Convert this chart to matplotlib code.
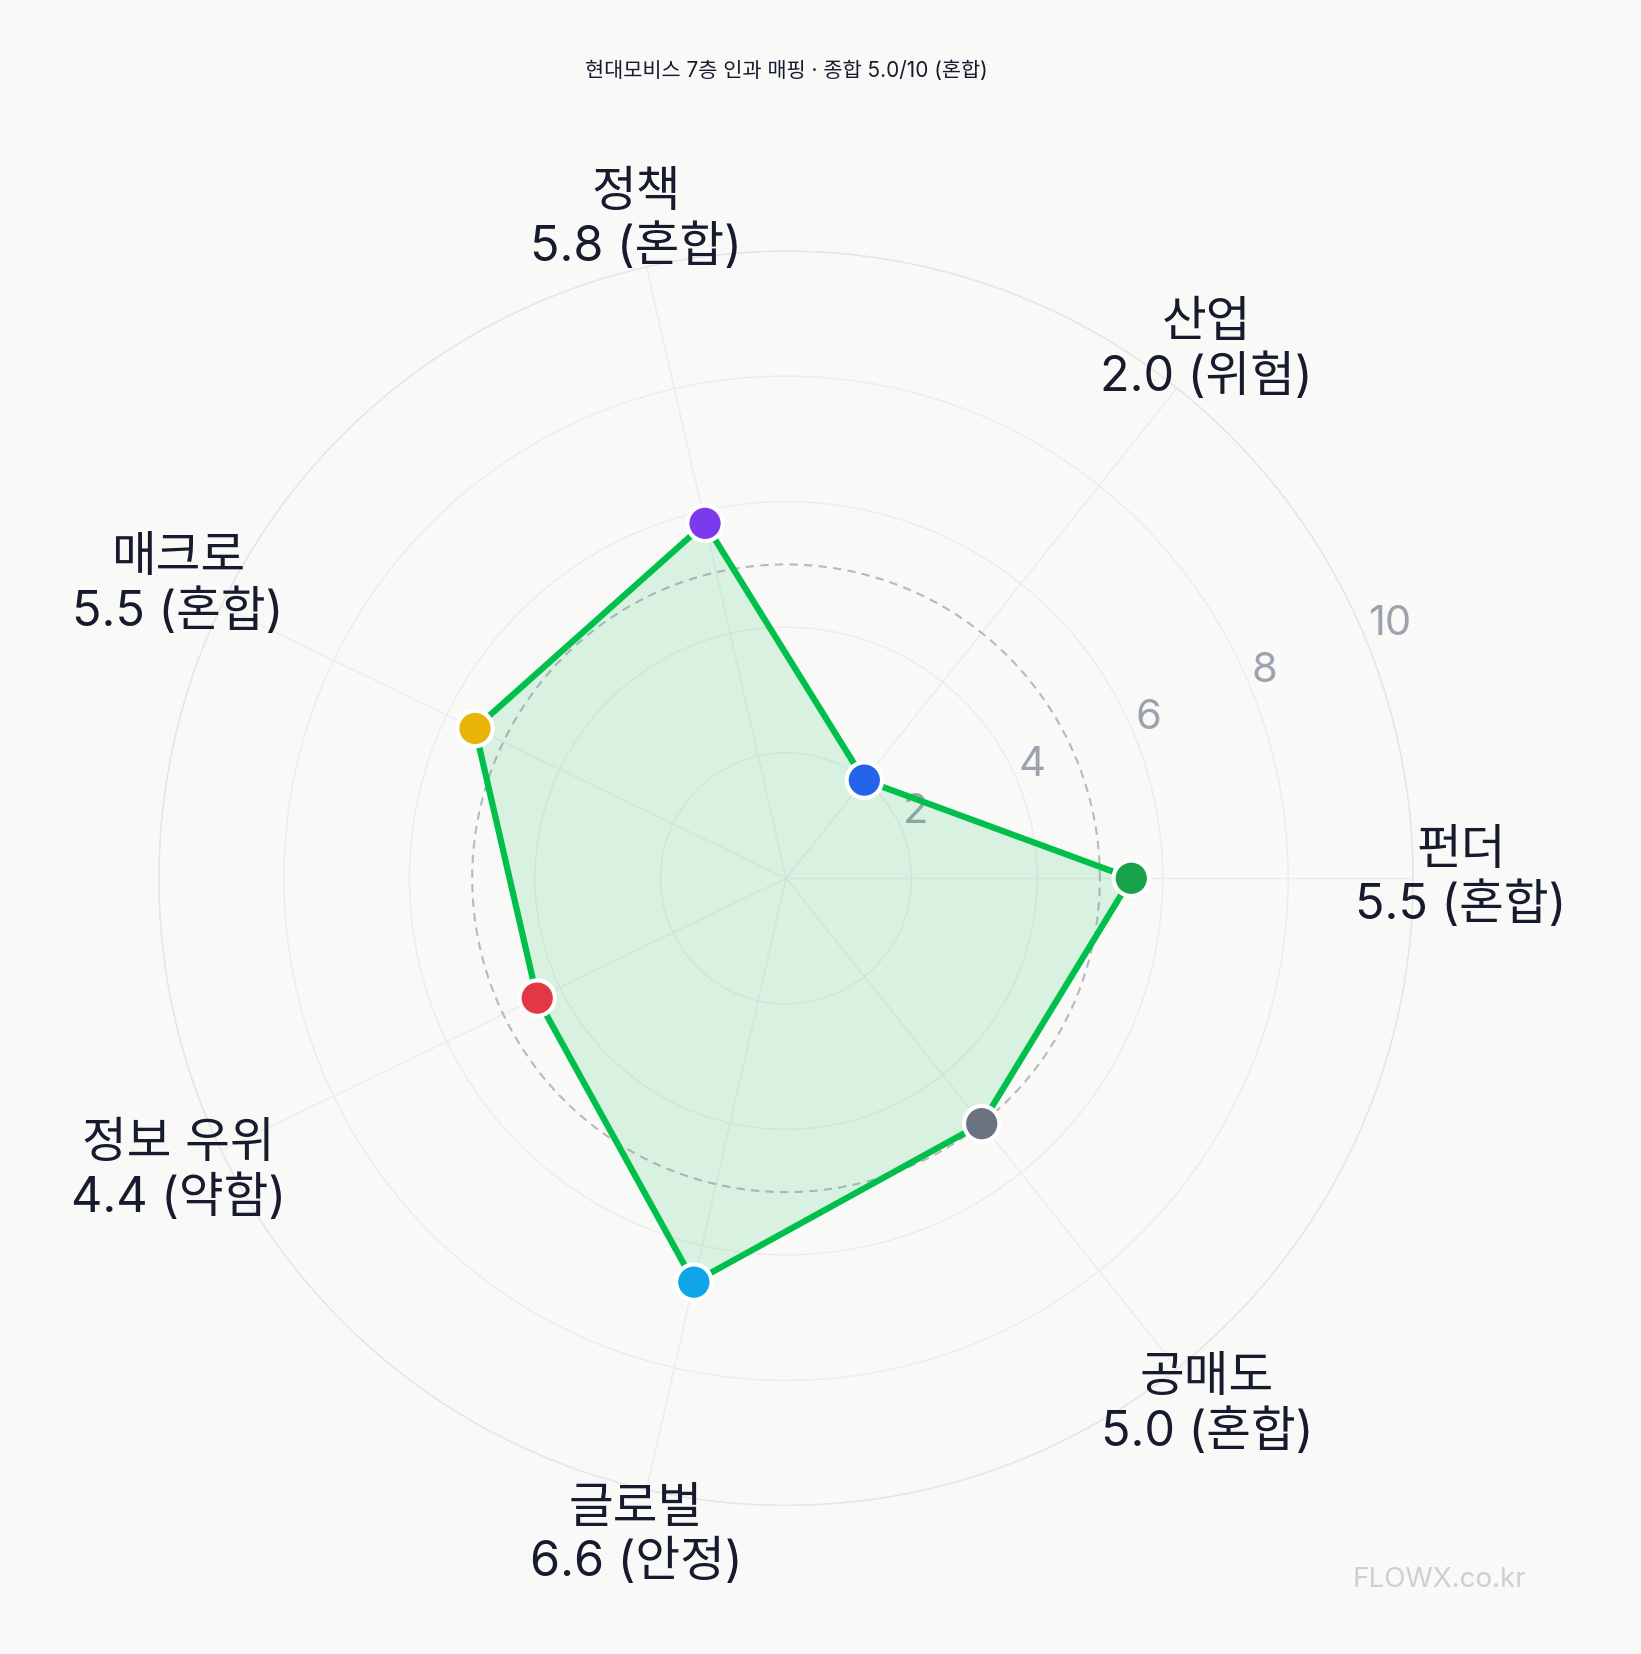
import numpy as np
import matplotlib
matplotlib.use("Agg")
import matplotlib.pyplot as plt

plt.rcParams['font.family'] = ['Inter', 'Noto Sans CJK KR', 'DejaVu Sans']

categories = ["펀더", "산업", "정책", "매크로", "정보 우위", "글로벌", "공매도"]
values = [5.5, 2.0, 5.8, 5.5, 4.4, 6.6, 5.0]
status = ["혼합", "위험", "혼합", "혼합", "약함", "안정", "혼합"]
point_colors = ["#16a34a", "#2563eb", "#7c3aed", "#eab308", "#e23744", "#0ea5e9", "#6b7280"]
avg = 5.0
rticks = [2, 4, 6, 8, 10]
title = "현대모비스 7층 인과 매핑 · 종합 5.0/10 (혼합)"

bg = "#f9f9f8"
fig = plt.figure(figsize=(16.41, 16.54), dpi=100, facecolor=bg)
ax = fig.add_axes([0.096, 0.0895, 0.766, 0.759], projection='polar', facecolor=bg)

n = len(categories)
angles = np.arange(n) * 2 * np.pi / n
ax.set_ylim(0, 10)
ax.set_yticks(rticks)
ax.set_yticklabels([str(t) for t in rticks], color="#9ca3af", fontsize=30)
ax.set_rlabel_position(22)
ax.set_xticks(angles)
ax.set_xticklabels([])
ax.grid(color="#ececee", linewidth=1.0)
ax.spines['polar'].set_visible(False)
th = np.linspace(0, 2*np.pi, 400)
ax.plot(th, np.full_like(th, 10), color="#dcdce4", lw=1.8, zorder=1)
ax.plot(th, np.full_like(th, avg), color="#b8b8c0", lw=1.5, ls=(0, (4, 3)), zorder=2)

a_closed = np.append(angles, angles[0])
v_closed = np.append(values, values[0])
ax.fill(a_closed, v_closed, color="#22c55e", alpha=0.15, zorder=3)
ax.plot(a_closed, v_closed, color="#00c04b", lw=4.5, zorder=4)
ax.scatter(angles, values, s=650, c=point_colors, edgecolors="white", linewidths=3, zorder=5)

for a, c, v, s in zip(angles, categories, values, status):
    ax.text(a, 10.75, f"{c}\n{v:.1f} ({s})", ha="center", va="center",
            fontsize=35, color="#161b2e", linespacing=1.2, zorder=6)

fig.text(0.479, 0.957, title, ha="center", va="center", fontsize=15, color="#161b2e")
fig.text(0.877, 0.045, "FLOWX.co.kr", ha="center", va="center", fontsize=20, color="#cfcfd2")

fig.savefig("out.png", dpi=100, facecolor=bg)
